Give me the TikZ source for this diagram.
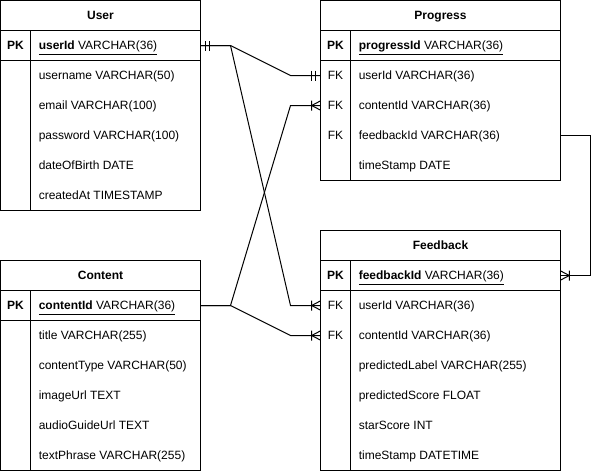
\documentclass[tikz,border=0pt]{standalone}
\usepackage{fontspec}
\setmainfont{Liberation Sans}
\begin{document}
\begin{tikzpicture}[x=0.75pt,y=-0.75pt,
  frame/.style={draw=black, line width=0.75pt},
  ttl/.style={font=\fontsize{9}{11}\selectfont\bfseries, inner sep=0, anchor=base},
  keylbl/.style={font=\fontsize{9}{11}\selectfont\bfseries, inner sep=0, anchor=base},
  fklbl/.style={font=\fontsize{9}{11}\selectfont, inner sep=0, anchor=base},
  field/.style={font=\fontsize{9}{11}\selectfont, anchor=base west, inner sep=0},
  slotA/.style={inner sep=0, minimum height=22.5pt, minimum width=150pt},
  slotB/.style={inner sep=0, minimum height=22.5pt, minimum width=180pt},
  rel/.style={draw=black, line width=0.75pt},
  mone/.pic={\draw[rel] (-4.5,-5)--(-4.5,5) (-8.5,-5)--(-8.5,5);},
  cmany/.pic={\draw[rel] (-8.5,-5)--(-8.5,5) (0,-4.5)--(-8.5,0)--(0,4.5);},
]
\useasboundingbox (0,0) rectangle (600,472);

% ---------- User ----------
\draw[frame] (0.5,0.5) rectangle (200.5,210.5);
\draw[frame] (0.5,30.5)--(200.5,30.5) (0.5,60.5)--(200.5,60.5) (30.5,30.5)--(30.5,210.5);
\node[ttl] (userT) at (100.5,19.5) {User};
\node[keylbl] (userK1) at (15.5,49.5) {PK};
\node[field] (userF1) at (38.5,49.5) {\underline{\textbf{userId} VARCHAR(36)}};
\node[field] (userF2) at (38.5,79.5) {username VARCHAR(50)};
\node[field] (userF3) at (38.5,109.5) {email VARCHAR(100)};
\node[field] (userF4) at (38.5,139.5) {password VARCHAR(100)};
\node[field] (userF5) at (38.5,169.5) {dateOfBirth DATE};
\node[field] (userF6) at (38.5,199.5) {createdAt TIMESTAMP};
\node[slotA] (uId) at (100.5,45.5) {};

% ---------- Progress ----------
\draw[frame] (320.5,0.5) rectangle (560.5,180.5);
\draw[frame] (320.5,30.5)--(560.5,30.5) (320.5,60.5)--(560.5,60.5) (350.5,30.5)--(350.5,180.5);
\node[ttl] (progT) at (440.5,19.5) {Progress};
\node[keylbl] (progK1) at (335.5,49.5) {PK};
\node[fklbl] (progK2) at (335.5,79.5) {FK};
\node[fklbl] (progK3) at (335.5,109.5) {FK};
\node[fklbl] (progK4) at (335.5,139.5) {FK};
\node[field] (progF1) at (358.5,49.5) {\underline{\textbf{progressId} VARCHAR(36)}};
\node[field] (progF2) at (358.5,79.5) {userId VARCHAR(36)};
\node[field] (progF3) at (358.5,109.5) {contentId VARCHAR(36)};
\node[field] (progF4) at (358.5,139.5) {feedbackId VARCHAR(36)};
\node[field] (progF5) at (358.5,169.5) {timeStamp DATE};
\node[slotB] (pUser) at (440.5,75.5) {};
\node[slotB] (pContent) at (440.5,105.5) {};
\node[slotB] (pFb) at (440.5,135.5) {};

% ---------- Feedback ----------
\draw[frame] (320.5,230.5) rectangle (560.5,470.5);
\draw[frame] (320.5,260.5)--(560.5,260.5) (320.5,290.5)--(560.5,290.5) (350.5,260.5)--(350.5,470.5);
\node[ttl] (fbT) at (440.5,249.5) {Feedback};
\node[keylbl] (fbK1) at (335.5,279.5) {PK};
\node[fklbl] (fbK2) at (335.5,309.5) {FK};
\node[fklbl] (fbK3) at (335.5,339.5) {FK};
\node[field] (fbF1) at (358.5,279.5) {\underline{\textbf{feedbackId} VARCHAR(36)}};
\node[field] (fbF2) at (358.5,309.5) {userId VARCHAR(36)};
\node[field] (fbF3) at (358.5,339.5) {contentId VARCHAR(36)};
\node[field] (fbF4) at (358.5,369.5) {predictedLabel VARCHAR(255)};
\node[field] (fbF5) at (358.5,399.5) {predictedScore FLOAT};
\node[field] (fbF6) at (358.5,429.5) {starScore INT};
\node[field] (fbF7) at (358.5,459.5) {timeStamp DATETIME};
\node[slotB] (fId) at (440.5,275.5) {};
\node[slotB] (fUser) at (440.5,305.5) {};
\node[slotB] (fContent) at (440.5,335.5) {};

% ---------- Content ----------
\draw[frame] (0.5,260.5) rectangle (200.5,470.5);
\draw[frame] (0.5,290.5)--(200.5,290.5) (0.5,320.5)--(200.5,320.5) (30.5,290.5)--(30.5,470.5);
\node[ttl] (contT) at (100.5,279.5) {Content};
\node[keylbl] (contK1) at (15.5,309.5) {PK};
\node[field] (contF1) at (38.5,309.5) {\underline{\textbf{contentId} VARCHAR(36)}};
\node[field] (contF2) at (38.5,339.5) {title VARCHAR(255)};
\node[field] (contF3) at (38.5,369.5) {contentType VARCHAR(50)};
\node[field] (contF4) at (38.5,399.5) {imageUrl TEXT};
\node[field] (contF5) at (38.5,429.5) {audioGuideUrl TEXT};
\node[field] (contF6) at (38.5,459.5) {textPhrase VARCHAR(255)};
\node[slotA] (cId) at (100.5,305.5) {};

% ---------- connectors ----------
\coordinate (j1) at (230.5,45.5);
\coordinate (j2) at (230.5,305.5);
\coordinate (bpu) at (290.5,75.5);
\coordinate (bpc) at (290.5,105.5);
\coordinate (bfu) at (290.5,305.5);
\coordinate (bfc) at (290.5,335.5);
\coordinate (r1) at (590.5,135.5);
\coordinate (r2) at (590.5,275.5);

\draw[rel] (uId.east) -- (j1) -- (bpu) -- (pUser.west);
\draw[rel] (uId.east) -- (j1) -- (bfu) -- (fUser.west);
\draw[rel] (cId.east) -- (j2) -- (bpc) -- (pContent.west);
\draw[rel] (cId.east) -- (j2) -- (bfc) -- (fContent.west);
\draw[rel] (pFb.east) -- (r1) -- (r2) -- (fId.east);

\pic[rotate=180] at (uId.east) {mone};
\pic at (pUser.west) {mone};
\pic at (fUser.west) {cmany};
\pic at (pContent.west) {cmany};
\pic at (fContent.west) {cmany};
\pic[rotate=180] at (fId.east) {cmany};
\end{tikzpicture}
\end{document}
